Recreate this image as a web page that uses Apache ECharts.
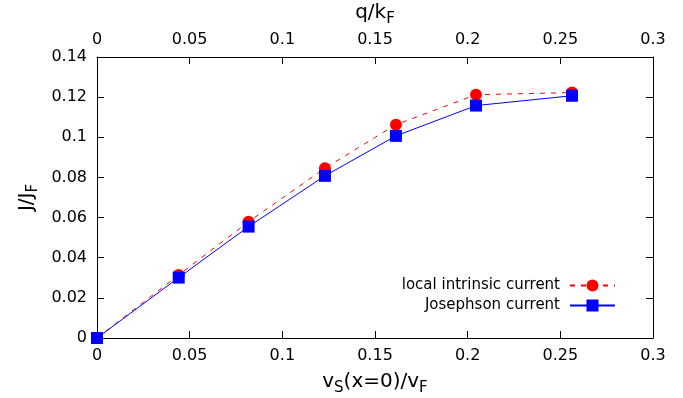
<!DOCTYPE html>
<html>
<head>
<meta charset="utf-8">
<script src="https://cdn.jsdelivr.net/npm/echarts@6/dist/echarts.min.js"></script>
<style>
  html, body { margin: 0; padding: 0; background: #fff; }
  #chart { width: 683px; height: 398px; }
</style>
</head>
<body>
<div id="chart"></div>
<script>
// Superflow velocity at the junction centre, v_s(x=0)/v_F (also q/k_F)
var velocity = [0, 0.0441, 0.0818, 0.1230, 0.1613, 0.2045, 0.2563];
// Local intrinsic current J/J_F
var localCurrent = [0, 0.0314, 0.0579, 0.0846, 0.1063, 0.1212, 0.1223];
// Josephson current J/J_F
var josephsonCurrent = [0, 0.0301, 0.0555, 0.0808, 0.1007, 0.1158, 0.1207];

var seriesNames = ['local intrinsic current', 'Josephson current'];
var xTicks = { min: 0, max: 0.3, step: 0.05 };
var yTicks = { min: 0, max: 0.14, step: 0.02 };

var FONT = 'DejaVu Sans';

function pairs(xs, ys) {
  return xs.map(function (x, i) { return [x, ys[i]]; });
}

// base text hugs the top of the line box, subscripts sit lower at the bottom
var titleRich = {
  b: { fontFamily: FONT, fontSize: 20, lineHeight: 20, color: '#000', verticalAlign: 'top' },
  s: { fontFamily: FONT, fontSize: 15, lineHeight: 24, color: '#000', verticalAlign: 'bottom' }
};

function frameAxis(extra) {
  var base = {
    type: 'value',
    axisLine: { show: true, onZero: false, lineStyle: { color: '#000', width: 1 } },
    axisTick: { show: true, inside: true, length: 7, lineStyle: { color: '#000', width: 1 } },
    splitLine: { show: false },
    axisLabel: { fontFamily: FONT, fontSize: 16, color: '#000' }
  };
  for (var k in extra) base[k] = extra[k];
  return base;
}

var chart = echarts.init(document.getElementById('chart'), null, { renderer: 'canvas' });

chart.setOption({
  animation: false,
  backgroundColor: '#fff',
  grid: { left: 97, right: 30, top: 57, bottom: 60, containLabel: false, outerBoundsMode: 'none' },
  xAxis: [
    frameAxis({
      position: 'bottom', min: xTicks.min, max: xTicks.max, interval: xTicks.step,
      axisLabel: { fontFamily: FONT, fontSize: 16, color: '#000', margin: 10 },
      name: '{b|v}{s|S}{b|(x=0)/v}{s|F}', nameLocation: 'middle', nameGap: 34,
      nameTextStyle: { rich: titleRich }
    }),
    frameAxis({
      position: 'top', min: xTicks.min, max: xTicks.max, interval: xTicks.step,
      axisLabel: { fontFamily: FONT, fontSize: 16, color: '#000', margin: 9 },
      name: '{b|q/k}{s|F}', nameLocation: 'middle', nameGap: 20,
      nameTextStyle: { rich: titleRich }
    })
  ],
  yAxis: [
    frameAxis({
      position: 'left', min: yTicks.min, max: yTicks.max, interval: yTicks.step,
      axisLabel: { fontFamily: FONT, fontSize: 16, color: '#000', margin: 10 },
      name: '{b|J/J}{s|F}', nameLocation: 'middle', nameGap: 56, nameRotate: 90,
      nameTextStyle: { rich: titleRich }
    }),
    frameAxis({
      position: 'right', min: yTicks.min, max: yTicks.max, interval: yTicks.step,
      axisLabel: { show: false }
    })
  ],
  legend: {
    orient: 'vertical',
    right: 62,
    top: 273,
    align: 'right',
    itemWidth: 45,
    itemHeight: 15,
    itemGap: 5,
    textStyle: { fontFamily: FONT, fontSize: 15, color: '#000', padding: [0, 5, 0, 0] },
    data: seriesNames
  },
  series: [
    {
      name: seriesNames[0],
      type: 'line',
      data: pairs(velocity, localCurrent),
      symbol: 'circle',
      symbolSize: 12,
      itemStyle: { color: '#ff0000' },
      lineStyle: { color: '#ff0000', width: 1, type: [5, 6] },
      z: 2
    },
    {
      name: seriesNames[1],
      type: 'line',
      data: pairs(velocity, josephsonCurrent),
      symbol: 'rect',
      symbolSize: 12,
      itemStyle: { color: '#0000ff' },
      lineStyle: { color: '#0000ff', width: 1 },
      z: 3
    }
  ]
});
</script>
</body>
</html>
